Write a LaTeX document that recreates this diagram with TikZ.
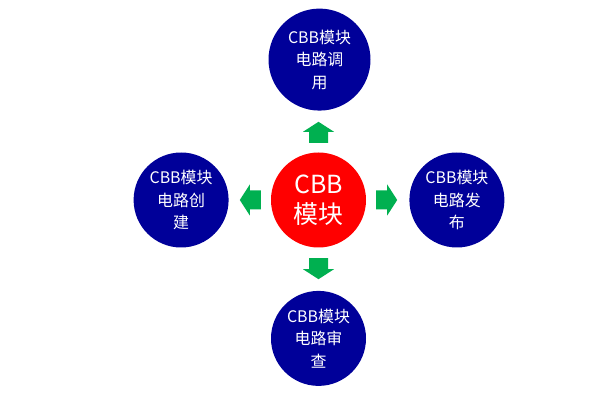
\documentclass[tikz,border=0pt]{standalone}
\usepackage{fontspec}
\setmainfont{Noto Sans CJK SC}
\usetikzlibrary{positioning}
\definecolor{hubred}{RGB}{255,0,0}
\definecolor{stageblue}{RGB}{0,0,153}
\definecolor{arrowgreen}{RGB}{0,176,80}
\tikzstyle{hub} = [circle, fill=hubred, text=white,
                   minimum size=95bp, inner sep=0pt, align=center,
                   font=\fontsize{25}{30}\selectfont]
\tikzstyle{stage} = [circle, fill=stageblue, text=white,
                     minimum size=95bp, inner sep=0pt, align=center,
                     font=\fontsize{16}{22.5}\selectfont]
\tikzset{greenarrow/.pic={
  \fill[arrowgreen] (0,-9.5bp) -- (11bp,-9.5bp) -- (11bp,-15.5bp) -- (21bp,0)
    -- (11bp,15.5bp) -- (11bp,9.5bp) -- (0,9.5bp) -- cycle;}}
\begin{document}
\begin{tikzpicture}[node distance=42bp]
        \useasboundingbox (0,0) rectangle (599bp,401bp);

        \node (Module) [hub] at (318.5bp,201bp) {CBB\\模块};

        \node (Invoke) [stage, minimum size=102bp, above=41.5bp of Module, xshift=1bp] {CBB模块\\电路调\\用};
        \node (Create) [stage, left=42bp of Module] {CBB模块\\电路创\\建};
        \node (Publish) [stage, right=43bp of Module] {CBB模块\\电路发\\布};
        \node (Review) [stage, below=43bp of Module] {CBB模块\\电路审\\查};

        % arrow bases next to the red circle
        \coordinate [above=9.5bp of Module] (UpBase);
        \coordinate [left=10bp of Module] (LeftBase);
        \coordinate [right=10bp of Module] (RightBase);
        \coordinate [below=10.5bp of Module] (DownBase);

        \pic [rotate=90] at (UpBase) {greenarrow};
        \pic [rotate=180] at (LeftBase) {greenarrow};
        \pic at (RightBase) {greenarrow};
        \pic [rotate=-90] at (DownBase) {greenarrow};

    \end{tikzpicture}
\end{document}
